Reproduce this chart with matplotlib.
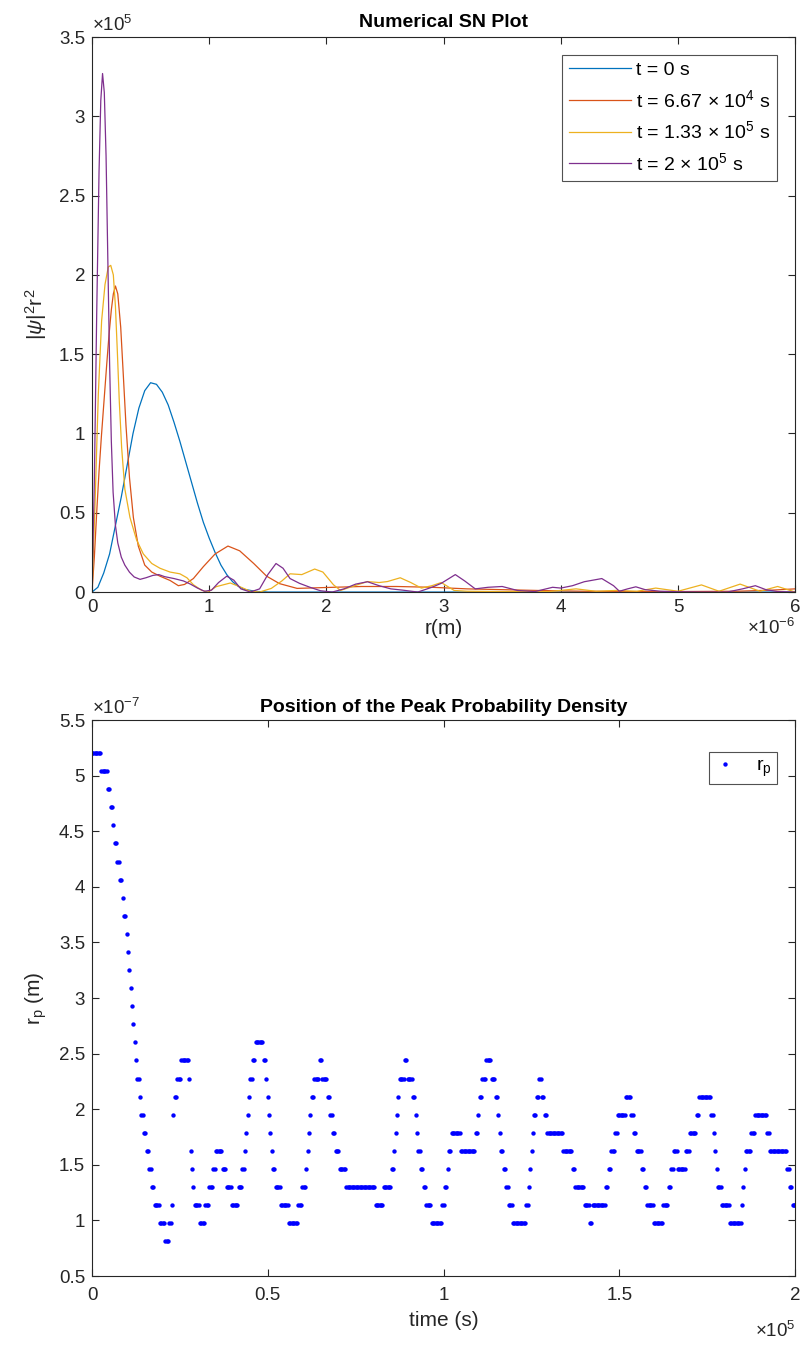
import numpy as np
import matplotlib
matplotlib.use('Agg')
import matplotlib.pyplot as plt
from matplotlib.ticker import FuncFormatter, MultipleLocator

plt.rcParams['font.family'] = ['Liberation Sans', 'DejaVu Sans']
plt.rcParams['mathtext.fontset'] = 'custom'
plt.rcParams['mathtext.rm'] = 'Liberation Sans'
plt.rcParams['mathtext.it'] = 'Liberation Sans:italic'
plt.rcParams['mathtext.bf'] = 'Liberation Sans:bold'

# ---- top panel: |psi|^2 r^2 snapshots (r in um, values in 1e5) ----
r_t0 = [0, 0.05, 0.1, 0.15, 0.2, 0.25, 0.3, 0.35, 0.4, 0.45, 0.5, 0.55, 0.6, 0.65,
        0.7, 0.75, 0.8, 0.85, 0.9, 0.95, 1.0, 1.05, 1.1, 1.15, 1.2, 1.25, 1.3, 1.4,
        1.5, 2, 3, 4, 5, 6]
v_t0 = [0, 0.03, 0.12, 0.24, 0.42, 0.6, 0.8, 1.0, 1.16, 1.27, 1.32, 1.31, 1.26, 1.18,
        1.07, 0.95, 0.82, 0.69, 0.56, 0.44, 0.34, 0.25, 0.17, 0.11, 0.065, 0.035, 0.017,
        0.004, 0, 0, 0, 0, 0, 0]

r_t1 = [0, 0.02, 0.04, 0.06, 0.08, 0.1, 0.125, 0.145, 0.165, 0.182, 0.2, 0.22, 0.245,
        0.267, 0.29, 0.32, 0.353, 0.395, 0.45, 0.51, 0.58, 0.666, 0.737, 0.79, 0.865,
        0.95, 1.05, 1.16, 1.26, 1.38, 1.49, 1.6, 1.75, 1.97, 2.3, 2.6, 2.9, 3.2, 3.5,
        3.8, 4.2, 4.6, 5.0, 5.5, 5.8, 6.0]
v_t1 = [0, 0.22, 0.5, 0.76, 0.98, 1.18, 1.43, 1.62, 1.78, 1.88, 1.93, 1.88, 1.67,
        1.37, 1.05, 0.72, 0.47, 0.29, 0.17, 0.126, 0.1, 0.073, 0.04, 0.048, 0.085,
        0.16, 0.24, 0.29, 0.26, 0.18, 0.1, 0.053, 0.023, 0.028, 0.035, 0.035, 0.03,
        0.02, 0.015, 0.01, 0.005, 0.003, 0.003, 0.005, 0.012, 0.02]

r_t2 = [0, 0.026, 0.054, 0.082, 0.111, 0.139, 0.16, 0.182, 0.2, 0.216, 0.233, 0.253,
        0.28, 0.324, 0.38, 0.438, 0.51, 0.58, 0.666, 0.75, 0.81, 0.865, 0.936, 0.99,
        1.06, 1.18, 1.26, 1.35, 1.43, 1.53, 1.62, 1.69, 1.79, 1.9, 1.97, 2.06, 2.12,
        2.2, 2.35, 2.45, 2.52, 2.63, 2.72, 2.81, 2.9, 2.98, 3.09, 3.2, 3.5, 3.9, 4.13,
        4.3, 4.47, 4.65, 4.81, 5.0, 5.2, 5.35, 5.53, 5.7, 5.85, 6.0]
v_t2 = [0, 0.56, 1.25, 1.71, 1.94, 2.05, 2.06, 2.0, 1.8, 1.52, 1.2, 0.91, 0.65, 0.47,
        0.33, 0.24, 0.18, 0.15, 0.126, 0.115, 0.09, 0.046, 0.011, 0.0, 0.034, 0.057,
        0.034, 0.005, 0.0, 0.023, 0.07, 0.115, 0.11, 0.145, 0.126, 0.046, 0.01, 0.03,
        0.066, 0.06, 0.066, 0.09, 0.06, 0.025, 0.04, 0.06, 0.01, 0.005, 0.003, 0.003,
        0.02, 0.005, 0.01, 0.005, 0.025, 0.005, 0.045, 0.005, 0.05, 0.005, 0.035, 0.0]

r_t3 = [0, 0.02, 0.04, 0.06, 0.075, 0.09, 0.105, 0.12, 0.135, 0.15, 0.165, 0.18, 0.2,
        0.22, 0.25, 0.28, 0.32, 0.36, 0.41, 0.46, 0.52, 0.57, 0.62, 0.7, 0.78, 0.84,
        0.9, 0.96, 1.02, 1.08, 1.15, 1.21, 1.27, 1.35, 1.43, 1.5, 1.57, 1.63, 1.69,
        1.77, 1.86, 1.95, 2.05, 2.15, 2.25, 2.35, 2.45, 2.55, 2.65, 2.78, 2.9, 2.98,
        3.1, 3.18, 3.27, 3.38, 3.5, 3.63, 3.78, 3.93, 4.0, 4.1, 4.2, 4.35, 4.45, 4.5,
        4.57, 4.64, 4.72, 4.85, 5.0, 5.2, 5.42, 5.55, 5.66, 5.75, 5.85, 6.0]
v_t3 = [0, 0.7, 1.75, 2.65, 3.1, 3.27, 3.15, 2.75, 2.1, 1.45, 0.95, 0.63, 0.42, 0.31,
        0.22, 0.17, 0.125, 0.095, 0.08, 0.09, 0.105, 0.11, 0.097, 0.085, 0.07, 0.05,
        0.025, 0.005, 0.012, 0.06, 0.1, 0.075, 0.02, 0.0, 0.02, 0.11, 0.18, 0.15, 0.085,
        0.055, 0.03, 0.008, 0.0, 0.02, 0.05, 0.065, 0.04, 0.02, 0.012, 0.0, 0.03, 0.055,
        0.11, 0.07, 0.02, 0.03, 0.035, 0.01, 0.003, 0.03, 0.025, 0.04, 0.065, 0.085,
        0.04, 0.005, 0.02, 0.033, 0.015, 0.005, 0.002, 0.0, 0.0, 0.02, 0.04, 0.015,
        0.003, 0.0]

labels_top = ['t = 0 s', r't = 6.67 $\times$ 10$^{4}$ s', r't = 1.33 $\times$ 10$^{5}$ s',
              r't = 2 $\times$ 10$^{5}$ s']
colors_top = ['#0072BD', '#D95319', '#EDB120', '#7E2F8E']

# ---- bottom panel: peak position, run-length ----
dr = 1.626e-8   # radial grid step, m
t_end = 2e5
rp_level = [32, 31, 30, 29, 28, 27, 26, 25, 24, 23, 22, 21, 20, 19, 18, 17, 16, 15, 14, 13,
            12, 11, 10, 9, 8, 7, 6, 5, 6, 7, 12, 13, 14, 15, 14, 10, 9, 8, 7, 6,
            7, 8, 9, 10, 9, 8, 7, 8, 9, 10, 11, 12, 13, 14, 15, 16, 15, 14, 13, 12,
            11, 10, 9, 8, 7, 6, 7, 8, 9, 10, 11, 12, 13, 14, 15, 14, 13, 12, 11, 10,
            9, 8, 7, 8, 9, 10, 11, 12, 13, 14, 15, 14, 13, 12, 11, 10, 9, 8, 7, 6,
            7, 8, 9, 10, 11, 10, 11, 12, 13, 14, 15, 14, 13, 12, 11, 10, 9, 8, 7, 6,
            7, 8, 9, 10, 11, 12, 13, 14, 13, 12, 11, 10, 9, 8, 7, 6, 7, 8, 9, 10,
            11, 12, 13, 12, 11, 10, 9, 8, 7, 6, 7, 8, 9, 10, 9, 10, 11, 12, 13, 12,
            11, 10, 9, 8, 7, 6, 7, 8, 9, 10, 11, 12, 11, 10, 9, 8, 7]
rp_count = [7, 5, 2, 2, 1, 2, 2, 2, 1, 2, 1, 1, 1, 1, 1, 1, 1, 1, 2, 1,
            2, 2, 2, 2, 2, 4, 4, 3, 2, 1, 1, 2, 3, 6, 1, 1, 1, 1, 4, 4,
            3, 3, 2, 5, 3, 4, 5, 3, 2, 1, 1, 1, 1, 2, 2, 6, 2, 1, 1, 1,
            1, 1, 2, 4, 6, 7, 3, 3, 1, 1, 1, 1, 2, 4, 2, 4, 2, 2, 2, 3,
            5, 22, 6, 6, 2, 1, 1, 1, 1, 4, 2, 4, 2, 1, 1, 2, 2, 2, 4, 8,
            2, 2, 1, 2, 7, 11, 2, 1, 2, 3, 4, 3, 2, 1, 1, 2, 2, 2, 3, 10,
            2, 1, 1, 1, 1, 2, 2, 2, 2, 2, 12, 7, 2, 7, 4, 2, 10, 2, 2, 3,
            2, 6, 4, 2, 2, 4, 2, 2, 5, 7, 4, 2, 2, 3, 6, 3, 5, 2, 9, 2,
            1, 1, 1, 3, 6, 9, 1, 1, 1, 4, 3, 9, 2, 13, 2, 2, 3]

rp = np.repeat(rp_level, rp_count) * dr
t = np.linspace(0, t_end, rp.size)

ink = '#262626'
fs_tick = 13.5
fig = plt.figure(figsize=(8, 13.52), dpi=100)
ax1 = fig.add_axes([0.115, 0.5621, 0.879, 0.4105])
ax2 = fig.add_axes([0.115, 0.0562, 0.879, 0.4112])

curves = [(r_t0, v_t0), (r_t1, v_t1), (r_t2, v_t2), (r_t3, v_t3)]
for (r, v), c, lab in zip(curves, colors_top, labels_top):
    ax1.plot(np.array(r) * 1e-6, np.array(v) * 1e5, color=c, lw=0.9, label=lab)
ax1.set_xlim(0, 6e-6)
ax1.set_ylim(0, 3.5e5)
ax1.xaxis.set_major_locator(MultipleLocator(1e-6))
ax1.yaxis.set_major_locator(MultipleLocator(0.5e5))
ax1.xaxis.set_major_formatter(FuncFormatter(lambda v, p: f'{v / 1e-6:g}'))
ax1.yaxis.set_major_formatter(FuncFormatter(lambda v, p: f'{v / 1e5:g}'))
ax1.set_title('Numerical SN Plot', fontsize=14, fontweight='bold', pad=7)
ax1.set_xlabel('r(m)', fontsize=15, color=ink, labelpad=2)
ax1.set_ylabel(r'$|\psi|^2\mathrm{r}^2$', fontsize=15, color=ink, labelpad=7)
ax1.text(0, 1.004, '×10$^{5}$', transform=ax1.transAxes, ha='left', va='bottom',
         fontsize=fs_tick, color=ink)
ax1.text(1, -0.047, '×10$^{-6}$', transform=ax1.transAxes, ha='right', va='top',
         fontsize=fs_tick, color=ink)
leg1 = ax1.legend(loc='upper right', fontsize=14, frameon=True, fancybox=False,
                  handlelength=3.2, handletextpad=0.25, borderpad=0.35, labelspacing=0.5,
                  borderaxespad=0, bbox_to_anchor=(0.974, 0.968))
leg1.get_frame().set_edgecolor(ink)
leg1.get_frame().set_linewidth(0.8)

ax2.plot(t, rp, linestyle='none', marker='.', ms=4.3, color='b', label=r'$\mathrm{r_p}$')
ax2.set_xlim(0, 2e5)
ax2.set_ylim(0.5e-7, 5.5e-7)
ax2.xaxis.set_major_locator(MultipleLocator(0.5e5))
ax2.yaxis.set_major_locator(MultipleLocator(0.5e-7))
ax2.xaxis.set_major_formatter(FuncFormatter(lambda v, p: f'{v / 1e5:g}'))
ax2.yaxis.set_major_formatter(FuncFormatter(lambda v, p: f'{v / 1e-7:g}'))
ax2.set_title('Position of the Peak Probability Density', fontsize=14,
              fontweight='bold', pad=6)
ax2.set_xlabel('time (s)', fontsize=15, color=ink, labelpad=5)
ax2.set_ylabel(r'$\mathrm{r_p}$ (m)', fontsize=15, color=ink, labelpad=7)
ax2.text(0, 1.004, '×10$^{-7}$', transform=ax2.transAxes, ha='left', va='bottom',
         fontsize=fs_tick, color=ink)
ax2.text(1, -0.08, '×10$^{5}$', transform=ax2.transAxes, ha='right', va='top',
         fontsize=fs_tick, color=ink)
leg2 = ax2.legend(loc='upper right', fontsize=14, frameon=True, fancybox=False,
                  handlelength=1.2, handletextpad=1.0, borderpad=0.25,
                  borderaxespad=0, bbox_to_anchor=(0.974, 0.942))
leg2.get_frame().set_edgecolor(ink)
leg2.get_frame().set_linewidth(0.8)

for ax in (ax1, ax2):
    for s in ax.spines.values():
        s.set_color(ink)
        s.set_linewidth(0.8)
    ax.tick_params(direction='in', length=5, width=0.8, colors=ink, labelsize=fs_tick,
                   top=True, right=True, pad=5)
ax2.tick_params(axis='x', pad=8)

fig.savefig('out.png', dpi=100)
